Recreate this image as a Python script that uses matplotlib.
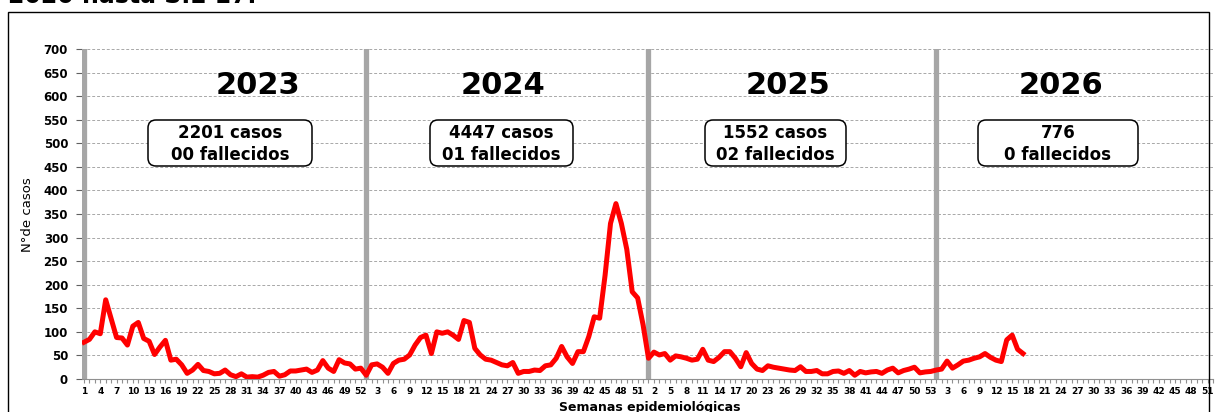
import numpy as np
import matplotlib.pyplot as plt
from matplotlib.patches import FancyBboxPatch, Rectangle
from matplotlib.transforms import IdentityTransform

# casos por semana epidemiologica
casos_2023 = [78, 84, 100, 96, 168, 128, 88, 87, 72, 112, 120, 86, 80, 52, 68, 82, 40, 42,
              30, 12, 19, 31, 18, 16, 11, 12, 19, 9, 5, 11, 4, 5, 4, 8, 14, 16, 6, 9, 17, 17,
              19, 21, 14, 19, 39, 23, 16, 41, 34, 32, 21, 23]
casos_2024 = [8, 30, 32, 25, 12, 33, 40, 42, 51, 72, 88, 93, 54, 100, 97, 100, 93, 84, 124,
              120, 65, 51, 42, 40, 35, 30, 28, 35, 12, 16, 16, 19, 18, 28, 30, 44, 69, 47, 33,
              58, 58, 90, 132, 129, 220, 330, 372, 330, 275, 185, 172, 115]
casos_2025 = [44, 57, 51, 54, 40, 49, 47, 44, 40, 42, 63, 40, 37, 46, 58, 58, 44, 26, 56, 33,
              21, 18, 28, 25, 23, 21, 19, 18, 26, 16, 16, 18, 11, 11, 16, 17, 12, 18, 8, 16,
              13, 15, 16, 12, 19, 23, 13, 18, 21, 25, 13, 15, 16]
casos_2026 = [19, 21, 38, 23, 30, 38, 40, 44, 47, 54, 46, 40, 37, 83, 93, 63, 54]

semanas_por_anio = [52, 52, 53, 52]
anios = ["2023", "2024", "2025", "2026"]
resumen = ["2201 casos\n00 fallecidos", "4447 casos\n01 fallecidos",
           "1552 casos\n02 fallecidos", "776\n0 fallecidos"]

W, H = 1215, 412
fig = plt.figure(figsize=(W / 100, H / 100), dpi=100)
fig.patch.set_facecolor("white")

def fx(px):
    return px / W

def fy(py):
    return 1 - py / H

ax = fig.add_axes([fx(82), fy(379), (1213 - 82) / W, 330 / H])

# semanas en el eje (todas las categorias) y datos
etiquetas = []
for n in semanas_por_anio:
    etiquetas += list(range(1, n + 1))
pos = np.arange(1, len(etiquetas) + 1)
datos = casos_2023 + casos_2024 + casos_2025 + casos_2026
x_datos = pos[:len(datos)]

inicio_anio = np.cumsum([0] + semanas_por_anio[:-1]) + 1

ax.set_xlim(1 - 2 / 5.435, 1 + 1129 / 5.435)
ax.set_ylim(0, 700)
ax.set_yticks(np.arange(0, 701, 50))
ax.yaxis.grid(True, linestyle=(0, (3, 2)), color="#a8a8a8", linewidth=0.7)
ax.set_axisbelow(True)

for x0 in inicio_anio:
    ax.axvline(x0, color="#a6a6a6", linewidth=3.8, zorder=2)

ax.plot(x_datos, datos, color="red", linewidth=3.6, zorder=3, solid_joinstyle="round")

ax.set_xticks(pos)
ax.set_xticklabels([str(e) if i % 3 == 0 else "" for i, e in enumerate(etiquetas)],
                   fontsize=6.5, fontweight="bold")
ax.tick_params(axis="x", length=3, color="#909090", pad=3)
ax.tick_params(axis="y", length=4, color="#606060", labelsize=8.5, pad=6)
for t in ax.get_yticklabels():
    t.set_fontweight("bold")

for s in ["top", "right", "left"]:
    ax.spines[s].set_visible(False)
ax.spines["bottom"].set_color("#909090")

fig.text(fx(28), fy(215), "N°de casos", fontsize=9.5, fontweight="medium",
         rotation=90, ha="center", va="center")
fig.text(fx(650), fy(407), "Semanas epidemiológicas", fontsize=9, fontweight="bold",
         ha="center", va="center")

# anios y cuadros de resumen
x_anio = [258, 503, 788, 1061]
x_texto = [230, 501, 775, 1058]
cuadros = [(148, 312), (430, 573), (705, 846), (978, 1138)]
for a, xa in zip(anios, x_anio):
    fig.text(fx(xa), fy(85), a, fontsize=22, fontweight="bold", ha="center", va="center")
for txt, xt, (x0, x1) in zip(resumen, x_texto, cuadros):
    caja = FancyBboxPatch((x0, H - 166), x1 - x0, 46, boxstyle="round,pad=0,rounding_size=8",
                          transform=IdentityTransform(), facecolor="white",
                          edgecolor="black", linewidth=1.1)
    fig.add_artist(caja)
    fig.text(fx(xt), fy(144), txt, fontsize=12, fontweight="bold", ha="center",
             va="center", linespacing=1.35)

# marco y titulo cortado
fig.add_artist(Rectangle((8, -5), 1201, H - 12 + 5, transform=IdentityTransform(),
                         fill=False, edgecolor="black", linewidth=1.0))
fig.text(fx(8), fy(3), "2020 hasta S.E 17.", fontsize=17, fontweight="bold", va="baseline")

fig.savefig("out.png", dpi=100)
